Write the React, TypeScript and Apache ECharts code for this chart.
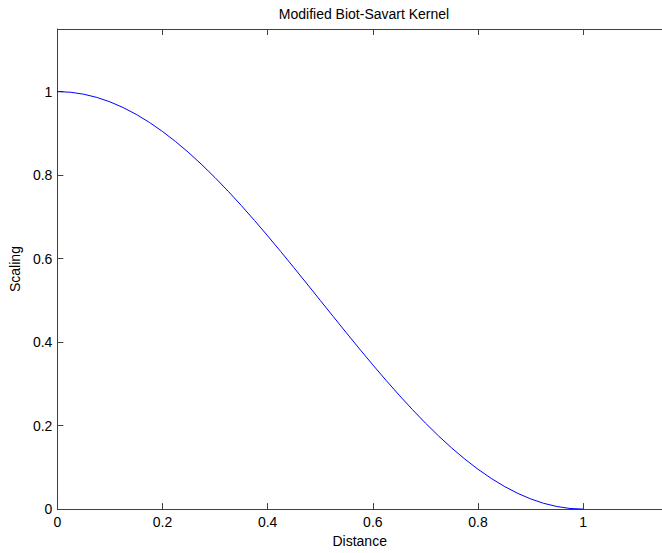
import React, { useEffect, useRef } from "react";
import * as echarts from "echarts";

const distance = [
  0, 0.025, 0.05, 0.075, 0.1, 0.125, 0.15, 0.175, 0.2, 0.225, 0.25, 0.275, 0.3, 0.325, 0.35, 0.375, 0.4, 0.425, 0.45, 0.475,
  0.5, 0.525, 0.55, 0.575, 0.6, 0.625, 0.65, 0.675, 0.7, 0.725, 0.75, 0.775, 0.8, 0.825, 0.85, 0.875, 0.9, 0.925, 0.95, 0.975, 1.0,
];
const scaling = [
  1.0, 0.9985, 0.9938, 0.9862, 0.9755, 0.9619, 0.9455, 0.9263, 0.9045, 0.8802, 0.8536, 0.8247, 0.7939, 0.7612, 0.727, 0.6913,
  0.6545, 0.6167, 0.5782, 0.5392, 0.5, 0.4608, 0.4218, 0.3833, 0.3455, 0.3087, 0.273, 0.2388, 0.2061, 0.1753, 0.1464, 0.1198,
  0.0955, 0.0737, 0.0545, 0.0381, 0.0245, 0.0138, 0.0062, 0.0015, 0.0,
];
const xTicks = [0, 0.2, 0.4, 0.6, 0.8, 1];
const yTicks = [0, 0.2, 0.4, 0.6, 0.8, 1];
const titleText = "Modified Biot-Savart Kernel";
const xName = "Distance";
const yName = "Scaling";

const FONT = "'Liberation Sans', Arial, Helvetica, sans-serif";
const AXIS_COLOR = "#404040";

export default function App() {
  const ref = useRef<HTMLDivElement>(null);

  useEffect(() => {
    if (!ref.current) return;
    const chart = echarts.init(ref.current, undefined, { renderer: "svg" });
    const points = distance.map((d, i) => [d, scaling[i]]);
    const baseAxis = {
      type: "value" as const,
      min: 0,
      max: 1.15,
      splitLine: { show: false },
      axisLine: { show: true, lineStyle: { color: AXIS_COLOR, width: 1 } },
    };
    chart.setOption({
      animation: false,
      backgroundColor: "#ffffff",
      graphic: [
        {
          type: "text",
          x: 364,
          y: 14,
          style: {
            text: titleText,
            align: "center",
            verticalAlign: "middle",
            fontSize: 14,
            fontFamily: FONT,
            fill: "#000000",
          },
        },
      ],
      grid: { left: 56, right: -9, top: 29, bottom: 39, containLabel: false },
      xAxis: [
        {
          ...baseAxis,
          position: "bottom",
          name: xName,
          nameLocation: "middle",
          nameGap: 21,
          nameTextStyle: { color: "#000", fontSize: 14, fontFamily: FONT },
          axisTick: { show: true, inside: true, length: 6, customValues: xTicks, lineStyle: { color: AXIS_COLOR } },
          axisLabel: { show: true, customValues: xTicks, margin: 6, color: "#000", fontSize: 14, fontFamily: FONT },
        },
        {
          ...baseAxis,
          position: "top",
          axisTick: { show: true, inside: true, length: 6, customValues: xTicks, lineStyle: { color: AXIS_COLOR } },
          axisLabel: { show: false },
        },
      ],
      yAxis: [
        {
          ...baseAxis,
          position: "left",
          name: yName,
          nameLocation: "middle",
          nameGap: 30,
          nameRotate: 90,
          nameTextStyle: { color: "#000", fontSize: 14, fontFamily: FONT },
          axisTick: { show: true, inside: true, length: 6, customValues: yTicks, lineStyle: { color: AXIS_COLOR } },
          axisLabel: { show: true, customValues: yTicks, margin: 5, color: "#000", fontSize: 14, fontFamily: FONT },
        },
      ],
      series: [
        {
          type: "line",
          xAxisIndex: 0,
          yAxisIndex: 0,
          data: points,
          showSymbol: false,
          smooth: false,
          lineStyle: { color: "#0000ff", width: 1 },
          itemStyle: { color: "#0000ff" },
          clip: false,
        },
      ],
    });
    return () => chart.dispose();
  }, []);

  return (
    <div
      ref={ref}
      style={{ position: "fixed", left: 0, top: 0, width: 662, height: 553, background: "#fff" }}
    />
  );
}
